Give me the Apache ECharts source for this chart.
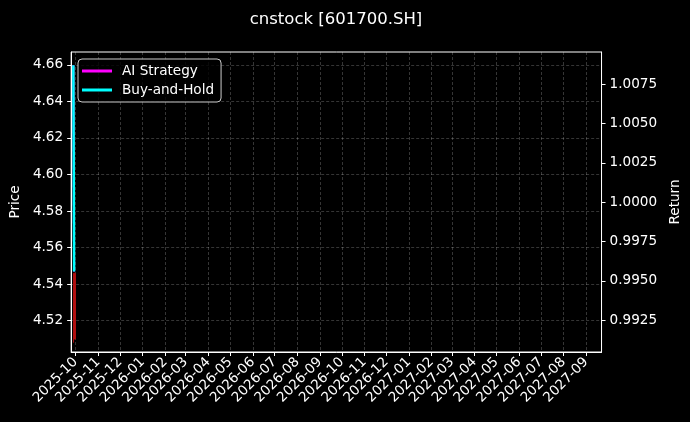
<!DOCTYPE html>
<html>
<head>
<meta charset="utf-8">
<script src="https://cdn.jsdelivr.net/npm/echarts@6/dist/echarts.min.js"></script>
<style>
html,body{margin:0;padding:0;background:#000;}
#c{width:690px;height:422px;}
</style>
</head>
<body>
<div id="c"></div>
<script>
const title = 'cnstock [601700.SH]';
const monthTicks = ['2025-10','2025-11','2025-12','2026-01','2026-02','2026-03','2026-04','2026-05','2026-06','2026-07','2026-08','2026-09','2026-10','2026-11','2026-12','2027-01','2027-02','2027-03','2027-04','2027-05','2027-06','2027-07','2027-08','2027-09'];
const priceTicks = [4.52, 4.54, 4.56, 4.58, 4.60, 4.62, 4.64, 4.66];
const returnTicks = [0.9925, 0.9950, 0.9975, 1.0000, 1.0025, 1.0050, 1.0075];

const candleDates = ['2025-09-29'];
const candleOpen = [4.546];
const candleClose = [4.510];
const candleLow = [4.508];
const candleHigh = [4.546];

const returnDates = ['2025-09-28', '2025-09-29'];
const aiStrategy = [1.0087, 0.9956];
const buyAndHold = [1.0087, 0.9956];

const xMin = '2025-09-25';
const xMax = '2027-09-22';
const priceMin = 4.5029, priceMax = 4.6670;
const retMin = 0.99048, retMax = 1.00954;

const font = 'DejaVu Sans';
const fs = 13.6;
const t = s => Date.parse(s.length === 7 ? s + '-01T00:00:00Z' : s + 'T00:00:00Z');
const tickVals = monthTicks.map(t);
const fmtMonth = v => {
  const d = new Date(v);
  return d.getUTCFullYear() + '-' + String(d.getUTCMonth() + 1).padStart(2, '0');
};
const gridLine = {show: true, lineStyle: {color: 'rgba(255,255,255,0.3)', type: [3, 2], width: 0.7}};

const chart = echarts.init(document.getElementById('c'));
chart.setOption({
  backgroundColor: '#000',
  animation: false,
  title: {
    text: title, left: 331, textAlign: 'center', top: 6,
    textStyle: {color: '#fff', fontFamily: font, fontSize: 16.5, fontWeight: 'normal'}
  },
  legend: {
    left: 78, top: 59, orient: 'vertical',
    data: ['AI Strategy', 'Buy-and-Hold'],
    icon: 'rect', itemWidth: 30, itemHeight: 3, itemGap: 5,
    padding: [5, 7, 5, 4],
    borderColor: '#ccc', borderWidth: 1, borderRadius: 4,
    backgroundColor: 'rgba(0,0,0,0.8)',
    textStyle: {color: '#fff', fontFamily: font, fontSize: fs, padding: [0, 0, 0, 5]}
  },
  grid: {
    left: 71, right: 88, top: 52, bottom: 70,
    show: true, borderColor: '#fff', borderWidth: 1, backgroundColor: 'transparent'
  },
  xAxis: {
    type: 'value', min: t(xMin), max: t(xMax), scale: true,
    axisLine: {show: true, lineStyle: {color: '#fff'}},
    axisTick: {show: true, length: 4, lineStyle: {color: '#fff'}, customValues: tickVals},
    axisLabel: {
      customValues: tickVals,
      rotate: 45, color: '#fff', fontFamily: font, fontSize: fs, margin: 8,
      formatter: fmtMonth
    },
    splitLine: gridLine
  },
  yAxis: [{
    type: 'value', min: priceMin, max: priceMax, position: 'left',
    name: 'Price', nameLocation: 'middle', nameGap: 48,
    nameTextStyle: {color: '#fff', fontFamily: font, fontSize: fs},
    axisLine: {show: true, lineStyle: {color: '#fff'}},
    axisTick: {show: true, length: 4, lineStyle: {color: '#fff'}, customValues: priceTicks},
    axisLabel: {customValues: priceTicks, color: '#fff', fontFamily: font, fontSize: fs, margin: 8,
      formatter: v => v.toFixed(2)},
    splitLine: gridLine
  }, {
    type: 'value', min: retMin, max: retMax, position: 'right',
    name: 'Return', nameLocation: 'middle', nameGap: 62,
    nameTextStyle: {color: '#fff', fontFamily: font, fontSize: fs},
    axisLine: {show: true, lineStyle: {color: '#fff'}},
    axisTick: {show: true, length: 4, lineStyle: {color: '#fff'}, customValues: returnTicks},
    axisLabel: {customValues: returnTicks, color: '#fff', fontFamily: font, fontSize: fs, margin: 8,
      formatter: v => v.toFixed(4)},
    splitLine: {show: false}
  }],
  series: [{
    type: 'candlestick', yAxisIndex: 0, barWidth: 2.5,
    itemStyle: {color: '#1a7a1a', color0: '#b01010', borderColor: '#1a7a1a', borderColor0: '#b01010', borderWidth: 1},
    data: candleDates.map((d, i) => [t(d), candleOpen[i], candleClose[i], candleLow[i], candleHigh[i]])
  }, {
    name: 'AI Strategy', type: 'line', yAxisIndex: 1, symbol: 'none',
    lineStyle: {color: '#ff00ff', width: 2}, itemStyle: {color: '#ff00ff'},
    data: returnDates.map((d, i) => [t(d), aiStrategy[i]])
  }, {
    name: 'Buy-and-Hold', type: 'line', yAxisIndex: 1, symbol: 'none',
    lineStyle: {color: '#00ffff', width: 2.5}, itemStyle: {color: '#00ffff'},
    data: returnDates.map((d, i) => [t(d), buyAndHold[i]])
  }]
});
</script>
</body>
</html>
